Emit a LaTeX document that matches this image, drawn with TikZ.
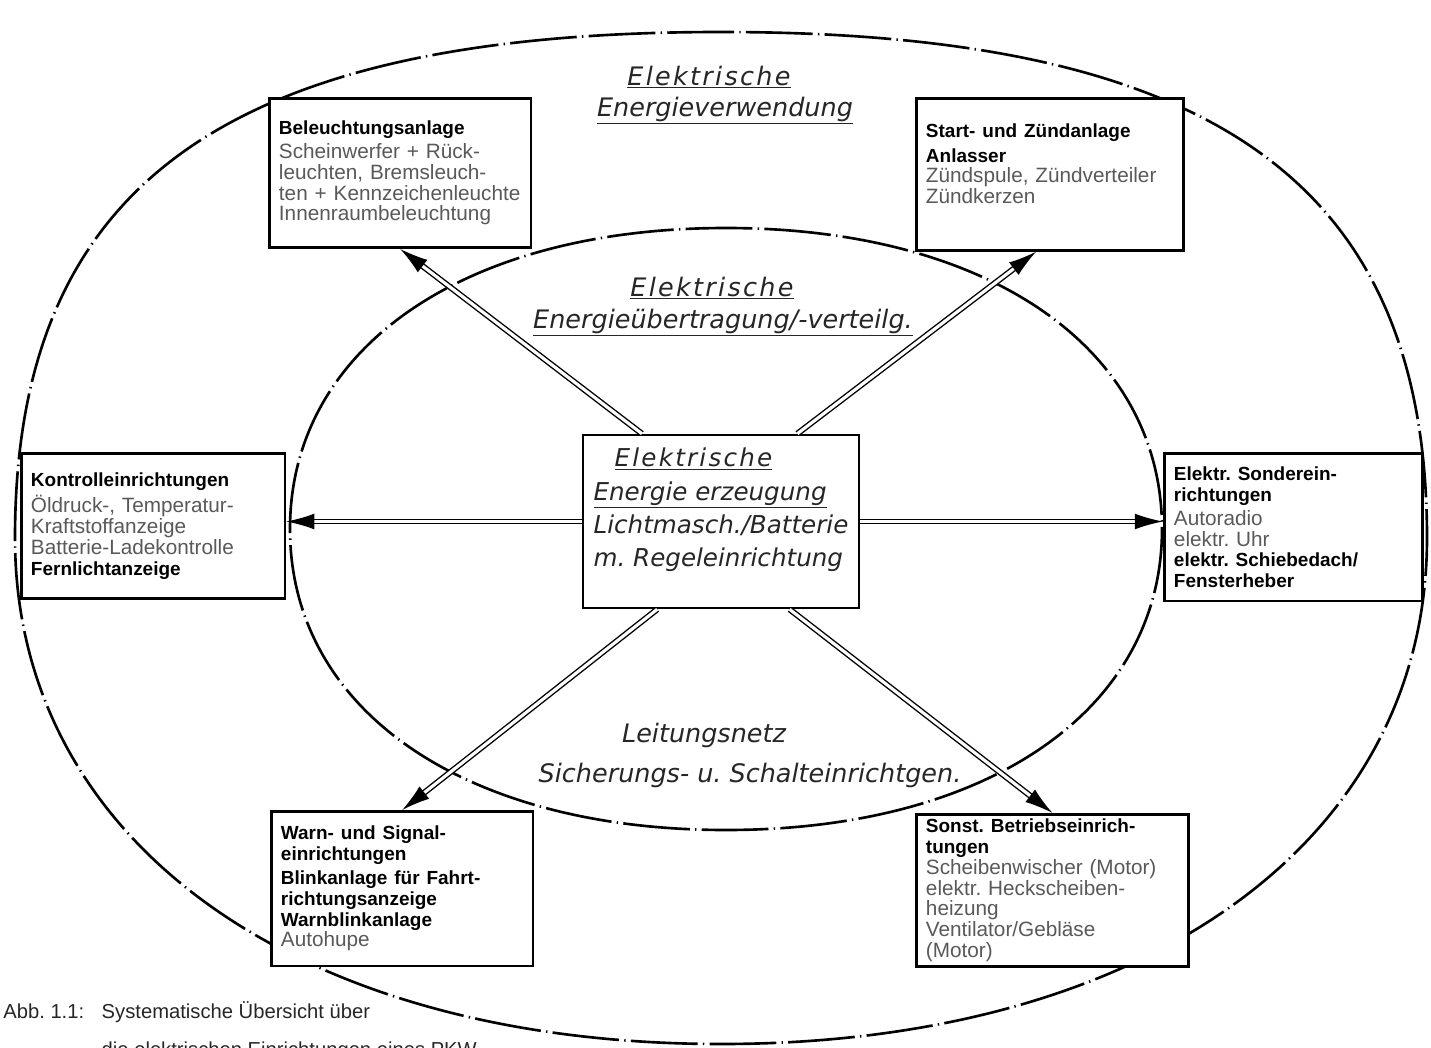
\documentclass[tikz,border=0pt]{standalone}
\usepackage{fontspec}
\setmainfont{Liberation Sans}
\newfontfamily\lettering{DejaVu Sans}
\usetikzlibrary{arrows.meta,positioning,calc}
\newcommand{\hd}[1]{\textcolor{black}{\fontsize{10.8}{11.8}\selectfont\bfseries #1}}
\newcommand{\wide}[1]{{\addfontfeature{LetterSpace=9}#1}}
\frenchspacing

\begin{document}
\begin{tikzpicture}[x=0.02cm,y=-0.02cm]
  \tikzstyle{zone}=[line width=1.5pt, dash pattern=on 38pt off 3pt on 0.8pt off 3pt]
  \tikzstyle{unit}=[draw, line width=1.5pt, fill=white, anchor=north west, align=left, inner xsep=5.5pt, inner ysep=2pt, text=black!65, font=\fontsize{11.8}{11.8}\selectfont]
  \tikzstyle{hand}=[anchor=base, text=black!85, font=\lettering\itshape\fontsize{14.5}{19}\selectfont]
  \tikzstyle{feed}=[draw, line width=0.8pt, double, double distance=1.8pt, -{Latex[length=16pt,width=9pt]}]

  \useasboundingbox (0,0) rectangle (1431,1048);

  % outer and inner zone
  \draw [zone] (15,538) .. controls (15,184) and (227,32) .. (721,32)
    .. controls (1215,32) and (1427,184) .. (1427,538)
    .. controls (1427,842) and (1145,1044) .. (721,1044)
    .. controls (297,1044) and (15,842) .. cycle;
  \draw [zone] (290,529) .. controls (290,348) and (464,228) .. (726,228)
    .. controls (988,228) and (1162,348) .. (1162,529)
    .. controls (1162,710) and (988,830) .. (726,830)
    .. controls (464,830) and (290,710) .. cycle;

  \node (useA) at (709,85) [hand] {\underline{\wide{Elektrische}}};
  \node (useB) at (725,116) [hand] {\underline{Energieverwendung}};
  \node (netA) at (712,296) [hand] {\underline{\wide{Elektrische}}};
  \node (netB) at (723,328) [hand] {\underline{Energieübertragung/-verteilg.}};
  \node (wireA) at (704,742) [hand] {Leitungsnetz};
  \node (wireB) at (750,782) [hand] {Sicherungs- u. Schalteinrichtgen.};

  \node (light) at (268,97) [unit, text width=138pt, minimum height=85pt]
    {\hd{Beleuchtungsanlage}\\[2pt] Scheinwerfer + Rück-\\ leuchten, Bremsleuch-\\ ten + Kennzeichenleuchte\\ Innenraumbeleuchtung};
  \node (ignit) at (915,97) [unit, text width=141pt, minimum height=86.5pt]
    {\hd{Start- und Zündanlage}\\[2pt] \hd{Anlasser}\\ Zündspule, Zündverteiler\\ Zündkerzen\\ \mbox{}};
  \node (ctrl) at (20,452) [unit, text width=139pt, minimum height=82.5pt]
    {\hd{Kontrolleinrichtungen}\\[2pt] Öldruck-, Temperatur-\\ Kraftstoffanzeige\\ Batterie-Ladekontrolle\\ \hd{Fernlichtanzeige}};
  \node (extra) at (1163,452) [unit, text width=136pt, minimum height=84pt]
    {\hd{Elektr. Sonderein-}\\ \hd{richtungen}\\[2pt] Autoradio\\ elektr. Uhr\\ \hd{elektr. Schiebedach/}\\ \hd{Fensterheber}};
  \node (warn) at (270,810) [unit, text width=138pt, minimum height=88pt]
    {\hd{Warn- und Signal-}\\ \hd{einrichtungen}\\[2pt] \hd{Blinkanlage für Fahrt-}\\ \hd{richtungsanzeige}\\ \hd{Warnblinkanlage}\\ Autohupe};
  \node (aux) at (915,813) [unit, text width=144pt, minimum height=86.5pt]
    {\hd{Sonst. Betriebseinrich-}\\ \hd{tungen}\\ Scheibenwischer (Motor)\\ elektr. Heckscheiben-\\ heizung\\ Ventilator/Gebläse\\ (Motor)};

  \node (gen) at (721,521.5) [draw, line width=1.5pt, fill=white, minimum width=157pt, minimum height=98.5pt, align=left, text=black!85, font=\lettering\itshape\fontsize{14}{19}\selectfont]
    {\hspace*{12pt}\underline{\wide{Elektrische}}\\ \underline{Energie erzeugung}\\ Lichtmasch./Batterie\\ m. Regeleinrichtung\\[-3pt] \mbox{}};

  \draw [feed] (gen.132) -- (light.south);
  \draw [feed] (gen.49) -- (ignit.260);
  \draw [feed] (gen.west) -- (gen.west -| ctrl.east);
  \draw [feed] (gen.east) -- (gen.east -| extra.west);
  \draw [feed] (gen.234) -- (warn.north);
  \draw [feed] (gen.308) -- (aux.north);

  \node (caption) at (3,1056) [anchor=base west, inner sep=0pt, align=left, text=black!85, font=\fontsize{11.5}{21.5}\selectfont]
    {\makebox[56pt][l]{Abb.\ 1.1:}Systematische Übersicht über\\ \hspace*{56pt}die elektrischen Einrichtungen eines PKW};
\end{tikzpicture}
\end{document}
